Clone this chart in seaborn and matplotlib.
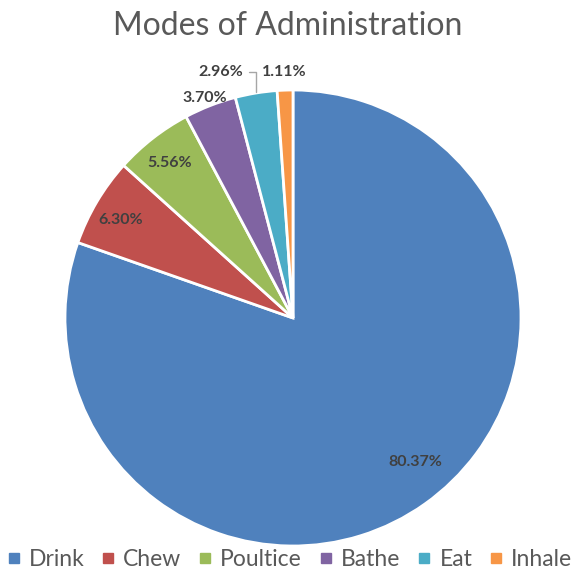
import numpy as np
import matplotlib
matplotlib.use("Agg")
import matplotlib.pyplot as plt
from matplotlib.lines import Line2D
import seaborn as sns

# Data
modes = ["Drink", "Chew", "Poultice", "Bathe", "Eat", "Inhale"]
shares = [80.37, 6.30, 5.56, 3.70, 2.96, 1.11]
colors = ["#4F81BD", "#C0504D", "#9BBB59", "#8064A2", "#4BACC6", "#F79646"]

sns.set_theme(style="white")
plt.rcParams["font.family"] = ["Lato", "DejaVu Sans"]

fig = plt.figure(figsize=(5.79, 5.70), dpi=100)
fig.patch.set_facecolor("white")
ax = fig.add_axes([65 / 579, 24 / 570, 456 / 579, 456 / 570])

palette = sns.color_palette(colors)
wedges, _ = ax.pie(shares, colors=palette, startangle=90, counterclock=False,
                   radius=1.0, wedgeprops=dict(edgecolor="white", linewidth=2))
ax.set_xlim(-1, 1)
ax.set_ylim(-1, 1)
ax.set_aspect("equal")
ax.axis("off")

# Label placement: (radius, angle offset in degrees) per slice, or fixed xy for outside labels
label_color = "#404040"
inside = {0: (0.83, 5.0), 1: (0.87, 1.0), 2: (0.87, 0.5)}
outside = {3: (-0.386, 0.965), 4: (-0.316, 1.079), 5: (-0.039, 1.079)}

for i, (w, v) in enumerate(zip(wedges, shares)):
    mid = np.deg2rad((w.theta1 + w.theta2) / 2)
    txt = f"{v:.2f}%"
    if i in inside:
        r, off = inside[i]
        a = mid + np.deg2rad(off)
        x, y = r * np.cos(a), r * np.sin(a)
    else:
        x, y = outside[i]
    ax.text(x, y, txt, ha="center", va="center", fontsize=11.5,
            fontweight="bold", color=label_color, clip_on=False)

# Leader line for the "Eat" label
w = wedges[4]
mid = np.deg2rad((w.theta1 + w.theta2) / 2)
ex, ey = np.cos(mid), np.sin(mid)
lx, ly = outside[4]
ax.plot([lx + 0.125, ex, ex], [ly, ly, ey + 0.005], color="#A6A6A6",
        linewidth=1.0, clip_on=False)

fig.text(0.497, 0.955, "Modes of Administration", ha="center", va="center",
         fontsize=23, color="#595959")

handles = [Line2D([0], [0], marker="s", linestyle="", markersize=7.5,
                  markerfacecolor=c, markeredgecolor=c) for c in colors]
fig.legend(handles, modes, loc="center", bbox_to_anchor=(0.5, 0.018), ncol=6,
           frameon=False, fontsize=16.5, handletextpad=0.35, columnspacing=0.75,
           handlelength=0.6, labelcolor="#595959")

fig.savefig("out.png", dpi=100, facecolor="white")
